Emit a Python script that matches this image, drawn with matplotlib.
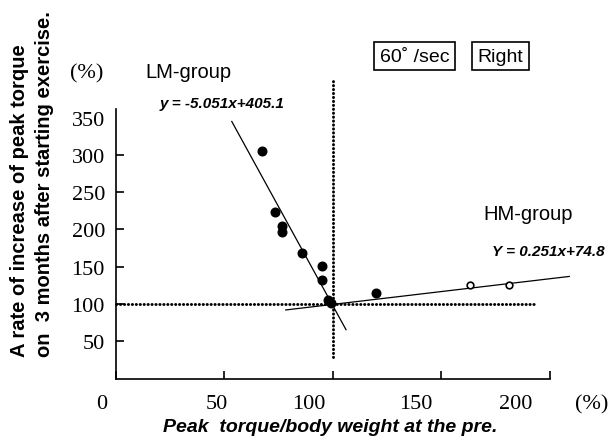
import matplotlib
matplotlib.use("Agg")
import matplotlib.pyplot as plt
from matplotlib.transforms import blended_transform_factory

# LM-group (filled) and HM-group (open) points
lm_x = [67.3, 73.3, 76.4, 76.4, 85.8, 95.2, 95.2, 97.6, 99.0, 119.9]
lm_y = [305, 223, 205, 196, 169, 151, 132, 106, 102, 115]
hm_x = [163.3, 181.3]
hm_y = [125.5, 125.5]

# fitted lines as drawn (end points)
lm_fit_x = [53.4, 106.1]
lm_fit_y = [345, 65.5]
hm_fit_x = [78.3, 209.1]
hm_fit_y = [92, 137]

# reference lines
ref_y = 100
ref_x = 100
href_x = [0, 194]
vref_y = [29, 401]

xticks = [0, 50, 100, 150, 200]
yticks = [50, 100, 150, 200, 250, 300, 350]
xlab_shift = [-14, -8, -24, -25, -34]   # label offsets in pixels, as in the picture

serif = "Liberation Serif"
sans = "Liberation Sans"

fig = plt.figure(figsize=(6.15, 4.39), dpi=100)
ax = fig.add_axes([116 / 615, 1 - 379.5 / 439, 433.6 / 615, 269.7 / 439])
ax.set_xlim(0, 200)
ax.set_ylim(0, 362)

for s in ["top", "right"]:
    ax.spines[s].set_visible(False)
for s in ["left", "bottom"]:
    ax.spines[s].set_linewidth(1.2)

# dotted reference lines
dots = dict(color="black", lw=2.1, linestyle=(0, (0.1, 1.25)),
            dash_capstyle="round", clip_on=False)
ax.plot(href_x, [ref_y, ref_y], **dots)
ax.plot([ref_x, ref_x], vref_y, **dots)

# regression lines
ax.plot(lm_fit_x, lm_fit_y, color="black", lw=0.9, clip_on=False)
ax.plot(hm_fit_x, hm_fit_y, color="black", lw=0.9, clip_on=False)

# points
ax.plot(lm_x, lm_y, "o", color="black", ms=6.2, clip_on=False)
ax.plot(hm_x, hm_y, "o", mfc="white", mec="black", mew=1.2, ms=4.8, clip_on=False)

# ticks
ax.set_xticks(xticks)
ax.set_xticklabels([])
ax.set_yticks(yticks)
ax.set_yticklabels([str(v) for v in yticks], fontfamily=serif, fontsize=16)
ax.tick_params(direction="in", length=5.5, width=1.2, pad=8)
ax.yaxis.get_major_ticks()[-1].tick1line.set_visible(False)

tr = blended_transform_factory(ax.transData, fig.transFigure)
for v, dx in zip(xticks, xlab_shift):
    ax.text(v + dx / 2.168, 1 - 405 / 439, str(v), transform=tr,
            ha="center", va="center", fontfamily=serif, fontsize=16)
ax.text(219.4, 1 - 405 / 439, "(%)", transform=tr,
        ha="center", va="center", fontfamily=serif, fontsize=16)

# axis titles
fig.text(330 / 615, 1 - 428 / 439, "Peak  torque/body weight at the pre.",
         ha="center", va="center", fontfamily=sans, fontsize=14,
         fontweight="bold", fontstyle="italic")
fig.text(87 / 615, 1 - 74 / 439, "(%)", ha="center", va="center",
         fontfamily=serif, fontsize=16)
fig.text(20 / 615, 1 - 357 / 439, "A rate of increase of peak torque",
         rotation=90, ha="center", va="bottom", fontfamily=sans,
         fontsize=14.5, fontweight="bold")
fig.text(45 / 615, 1 - 357 / 439, "on  3 months after starting exercise.",
         rotation=90, ha="center", va="bottom", fontfamily=sans,
         fontsize=14.5, fontweight="bold")

# group labels and equations
fig.text(188 / 615, 1 - 73 / 439, "LM-group", ha="center", va="center",
         fontfamily=sans, fontsize=14.5)
fig.text(222 / 615, 1 - 104 / 439, "y = -5.051x+405.1", ha="center", va="center",
         fontfamily=sans, fontsize=11, fontweight="bold", fontstyle="italic")
fig.text(528 / 615, 1 - 215 / 439, "HM-group", ha="center", va="center",
         fontfamily=sans, fontsize=14.5)
fig.text(548 / 615, 1 - 252 / 439, "Y = 0.251x+74.8", ha="center", va="center",
         fontfamily=sans, fontsize=11, fontweight="bold", fontstyle="italic")

# boxed condition labels
box = dict(boxstyle="square,pad=0.3", fc="white", ec="black", lw=1.2)
fig.text(414.5 / 615, 1 - 57 / 439, "60\u02da /sec", ha="center", va="center",
         fontfamily=sans, fontsize=14, bbox=box)
fig.text(500.5 / 615, 1 - 57 / 439, "Right", ha="center", va="center",
         fontfamily=sans, fontsize=14, bbox=box)

fig.savefig("out.png", dpi=100)
